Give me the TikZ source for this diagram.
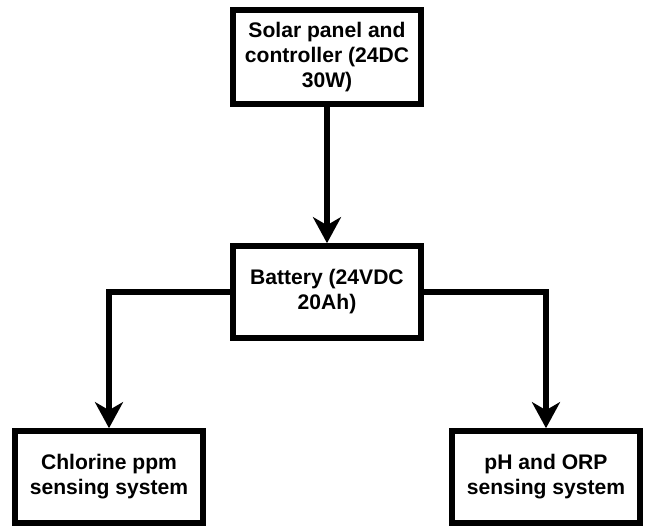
\documentclass[tikz,border=0pt]{standalone}
\usepackage{fontspec}
\setmainfont{Liberation Sans}
\usepackage{tikz}
\usetikzlibrary{arrows.meta, positioning}

\begin{document}
\begin{tikzpicture}[
    font=\fontsize{15pt}{17.8pt}\selectfont\bfseries,
    box/.style={draw, rectangle, line width=4pt, minimum height=2.3cm, minimum width=4.7cm, inner sep=0pt, align=center},
    arrow/.style={-{Stealth[length=0.65cm, width=0.7cm, inset=0.2cm]}, line width=4pt}
]
\useasboundingbox (0,0) rectangle (16.125,13.175);

% Power source
\node[box, minimum height=2.35cm] (solar) at (8.175,11.75) {Solar panel and\\controller (24DC\\30W)};

% Storage
\node[box] (bat) at (8.175,5.875) {Battery (24VDC\\20Ah)};

\draw[arrow] (solar) -- (bat);

% Sensing systems
\node[box] (chl) at (2.725,1.25) {Chlorine ppm\\sensing system};
\node[box] (ph) at (13.65,1.25) {pH and ORP\\sensing system};

\draw[arrow] (bat.west) -| (chl.north);
\draw[arrow] (bat.east) -| (ph.north);

\end{tikzpicture}
\end{document}
